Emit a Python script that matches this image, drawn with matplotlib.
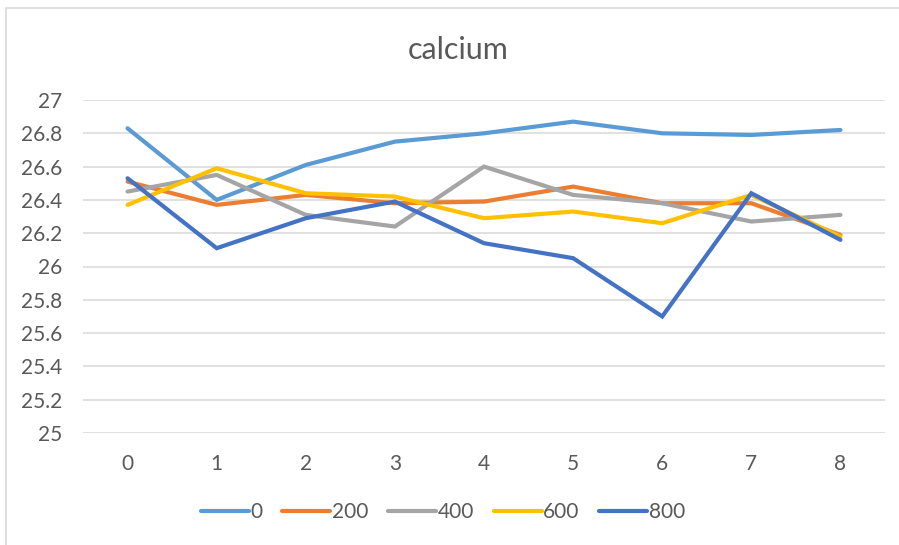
import matplotlib
matplotlib.use("Agg")
import matplotlib.pyplot as plt
from matplotlib.patches import Rectangle

plt.rcParams['font.family'] = ['Lato', 'DejaVu Sans']

x_labels = ["0", "1", "2", "3", "4", "5", "6", "7", "8"]
series_names = ["0", "200", "400", "600", "800"]

s0 = [26.83, 26.40, 26.61, 26.75, 26.80, 26.87, 26.80, 26.79, 26.82]
s200 = [26.51, 26.37, 26.43, 26.38, 26.39, 26.48, 26.38, 26.38, 26.19]
s400 = [26.45, 26.55, 26.31, 26.24, 26.60, 26.43, 26.38, 26.27, 26.31]
s600 = [26.37, 26.59, 26.44, 26.42, 26.29, 26.33, 26.26, 26.43, 26.18]
s800 = [26.53, 26.11, 26.29, 26.39, 26.14, 26.05, 25.70, 26.44, 26.16]

y_ticks = [25, 25.2, 25.4, 25.6, 25.8, 26, 26.2, 26.4, 26.6, 26.8, 27]
y_tick_labels = ["25", "25.2", "25.4", "25.6", "25.8", "26", "26.2", "26.4", "26.6", "26.8", "27"]

colors = ["#5B9BD5", "#ED7D31", "#A5A5A5", "#FFC000", "#4472C4"]

W, H = 899, 545
fig = plt.figure(figsize=(W / 100, H / 100), dpi=100)
fig.patch.set_facecolor("white")

# chart-area frame
fig.patches.append(Rectangle((6 / W, -0.05), 1.1, 1 - 8 / H + 0.05,
                             transform=fig.transFigure, fill=False,
                             edgecolor="#D9D9D9", linewidth=1.2))

ax = fig.add_axes([83 / W, 1 - 433 / H, (885 - 83) / W, (433 - 100) / H])
ax.set_facecolor("white")

xs = list(range(len(x_labels)))
for name, vals, c in zip(series_names, [s0, s200, s400, s600, s800], colors):
    ax.plot(xs, vals, color=c, linewidth=3.0, label=name,
            solid_joinstyle="miter", solid_capstyle="round")

ax.set_xlim(-0.5, len(x_labels) - 0.5)
ax.set_ylim(25, 27)
ax.set_yticks(y_ticks)
ax.set_yticklabels(y_tick_labels)
ax.set_xticks(xs)
ax.set_xticklabels(x_labels)
ax.grid(axis="y", color="#D9D9D9", linewidth=1.1)
ax.set_axisbelow(True)
for sp in ax.spines.values():
    sp.set_visible(False)
ax.tick_params(axis="both", length=0, labelsize=15, labelcolor="#595959")
ax.tick_params(axis="y", pad=15)
ax.tick_params(axis="x", pad=15)

fig.text(458 / W, 1 - 50 / H, "calcium", ha="center", va="center",
         fontsize=22, color="#595959")

leg = fig.legend(loc="center", bbox_to_anchor=(443 / W, 1 - 512 / H), ncol=5,
                 frameon=False, fontsize=15, handlelength=2.3,
                 handletextpad=0.08, columnspacing=0.95)
for t in leg.get_texts():
    t.set_color("#595959")
for ln in leg.get_lines():
    ln.set_linewidth(3.0)

fig.savefig("out.png", dpi=100, facecolor="white")
